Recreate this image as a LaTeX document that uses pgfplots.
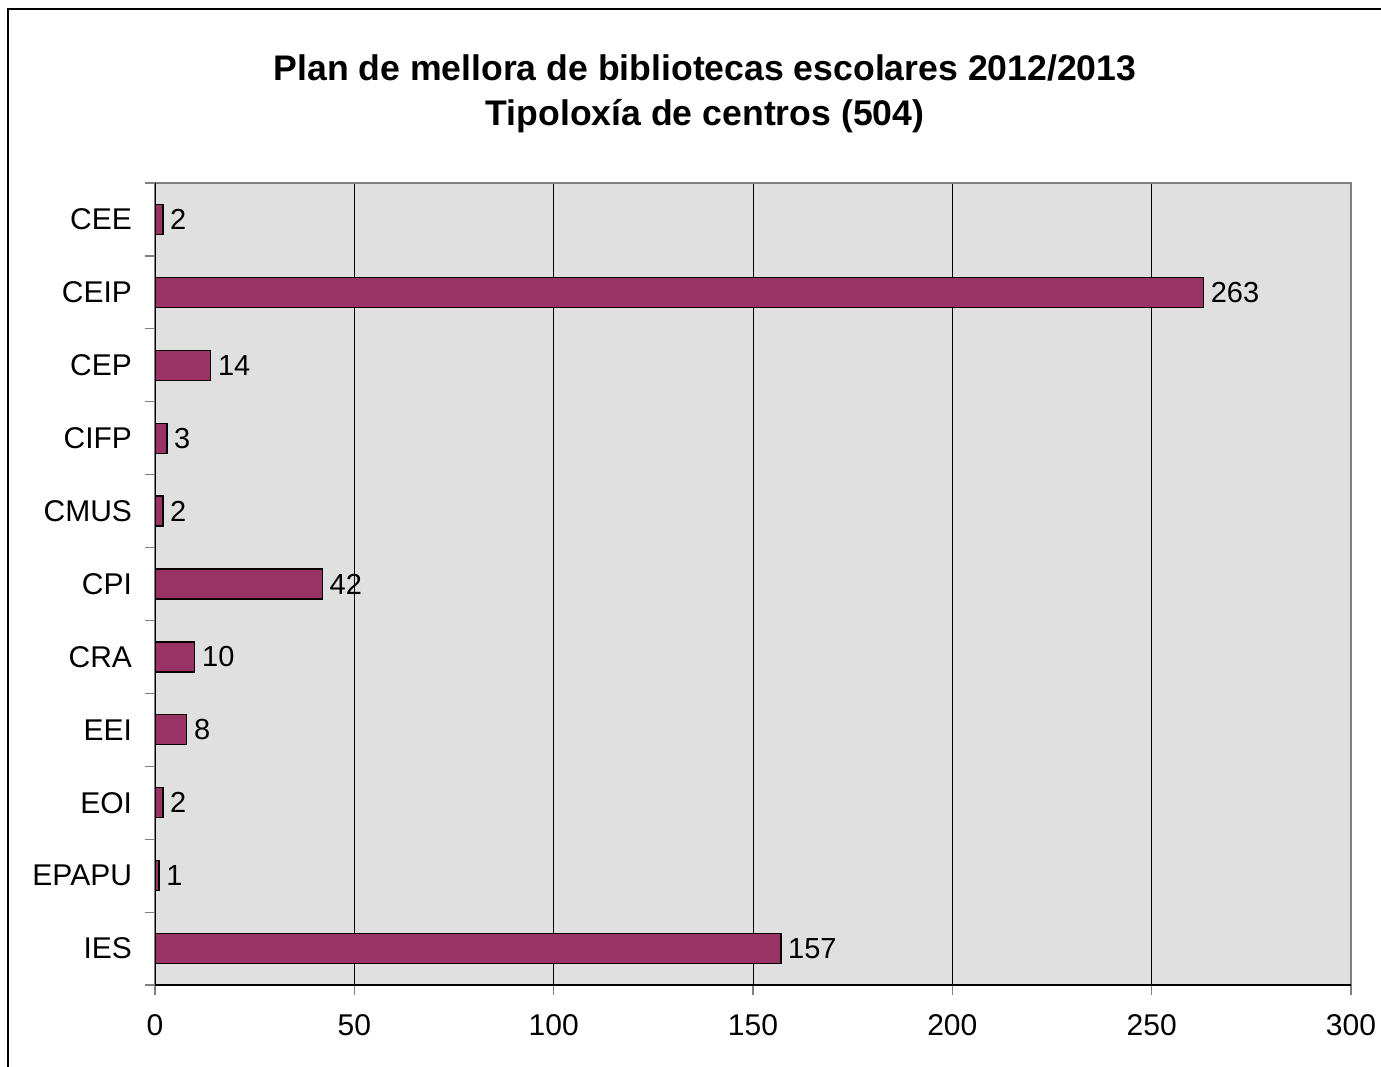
\documentclass[border=0pt]{standalone}
\usepackage{fontspec}
\setmainfont{Liberation Sans}
\usepackage{pgfplots}
\pgfplotsset{compat=1.18}
\definecolor{barc}{HTML}{993366}
\definecolor{plotbg}{HTML}{E0E0E0}
\definecolor{bordergray}{HTML}{808080}
\begin{document}
\begin{tikzpicture}
\useasboundingbox (0,0) rectangle (690.5pt,533pt);
\draw[line width=0.6pt] (4pt,-2pt) -- (4pt,528.5pt) -- (695pt,528.5pt);
\node[font=\bfseries\fontsize{17.8}{22.5}\selectfont, align=center] at (352.5pt,486pt) {Plan de mellora de bibliotecas escolares 2012/2013\\Tipoloxía de centros (504)};
\begin{axis}[
  at={(77.5pt,40.5pt)}, anchor=south west,
  scale only axis, width=598pt, height=401pt,
  xbar, bar width=15pt,
  xmin=0, xmax=300, ymin=-0.5, ymax=10.5, y dir=reverse,
  axis background/.style={fill=plotbg},
  axis line style={bordergray, line width=0.6pt},
  xtick={0,50,...,300}, xtick pos=bottom, ytick pos=left,
  ytick={0,...,10},
  yticklabels={CEE,CEIP,CEP,CIFP,CMUS,CPI,CRA,EEI,EOI,EPAPU,IES},
  minor ytick={-0.5,0.5,...,10.5},
  tick align=outside,
  major tick length=5pt, minor tick length=5pt,
  major y tick style={draw=none},
  minor y tick style={bordergray, line width=0.6pt},
  major x tick style={bordergray, line width=0.6pt},
  xmajorgrids, major x grid style={black, line width=0.5pt},
  ticklabel style={font=\fontsize{15}{17}\selectfont},
  yticklabel style={xshift=-3pt},
  xticklabel style={yshift=-6pt},
  /pgf/number format/assume math mode=true,
  nodes near coords,
  every node near coord/.append style={font=\fontsize{14.5}{17}\selectfont, black, anchor=west},
]
\addplot[fill=barc, draw=black, line width=0.6pt] coordinates {
(2,0) (263,1) (14,2) (3,3) (2,4) (42,5) (10,6) (8,7) (2,8) (1,9) (157,10)};
\draw[bordergray, line width=0.6pt] (rel axis cs:1,0) -- (rel axis cs:1,1) -- (rel axis cs:0,1);
\draw[black, line width=0.6pt] (rel axis cs:0,1) -- (rel axis cs:0,0) -- (rel axis cs:1,0);
\end{axis}
\end{tikzpicture}
\end{document}
